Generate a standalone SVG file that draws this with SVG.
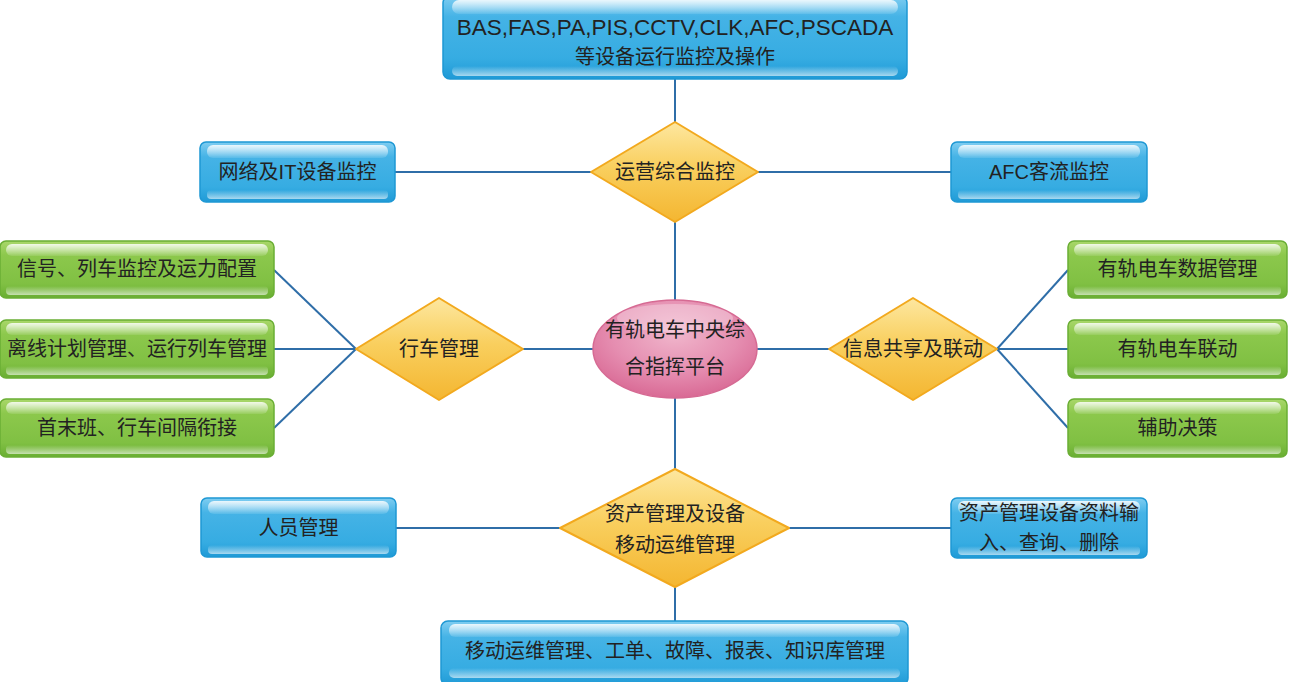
<svg xmlns="http://www.w3.org/2000/svg" width="1289" height="682" viewBox="0 0 1289 682">
<defs>
<linearGradient id="gBlue" x1="0" y1="0" x2="0" y2="1">
<stop offset="0" stop-color="#7fcdf1"/>
<stop offset="0.25" stop-color="#45b3e6"/>
<stop offset="0.75" stop-color="#36ace2"/>
<stop offset="1" stop-color="#1f9ad6"/>
</linearGradient>
<linearGradient id="gGreen" x1="0" y1="0" x2="0" y2="1">
<stop offset="0" stop-color="#a9d76a"/>
<stop offset="0.25" stop-color="#8cc84c"/>
<stop offset="0.75" stop-color="#80c043"/>
<stop offset="1" stop-color="#69ae32"/>
</linearGradient>
<linearGradient id="gGloss" x1="0" y1="0" x2="0" y2="1">
<stop offset="0" stop-color="#ffffff" stop-opacity="0.85"/>
<stop offset="1" stop-color="#ffffff" stop-opacity="0.1"/>
</linearGradient>
<linearGradient id="gBottom" x1="0" y1="0" x2="0" y2="1">
<stop offset="0" stop-color="#ffffff" stop-opacity="0"/>
<stop offset="1" stop-color="#ffffff" stop-opacity="0.6"/>
</linearGradient>
<linearGradient id="gYellow" x1="0" y1="0" x2="0" y2="1">
<stop offset="0" stop-color="#fde7a0"/>
<stop offset="0.45" stop-color="#f9cf5e"/>
<stop offset="1" stop-color="#f4b631"/>
</linearGradient>
<radialGradient id="gPink" cx="0.5" cy="0.35" r="0.65">
<stop offset="0" stop-color="#f0b5cb"/>
<stop offset="0.6" stop-color="#e58db0"/>
<stop offset="1" stop-color="#d96a95"/>
</radialGradient>
<style>
.line{stroke:#2f6ea8;stroke-width:2;fill:none}
.blue{fill:url(#gBlue);stroke:#1e98d4;stroke-width:1.5}
.green{fill:url(#gGreen);stroke:#6aae34;stroke-width:1.5}
.gloss{fill:url(#gGloss)}
.btm{fill:url(#gBottom)}
.dia{fill:url(#gYellow);stroke:#f2a91e;stroke-width:2;stroke-linejoin:round}
.ell{fill:url(#gPink);stroke:#d66a93;stroke-width:1.5}
.t{font-family:"Liberation Sans","Noto Sans CJK SC",sans-serif;font-size:20px;fill:#222;text-anchor:middle}
.lat{font-size:22.5px}
</style>
</defs>

<g id="connectors">
<line class="line" x1="675" y1="79" x2="675" y2="122"/>
<line class="line" x1="675" y1="222" x2="675" y2="300"/>
<line class="line" x1="675" y1="398" x2="675" y2="469"/>
<line class="line" x1="675" y1="587" x2="675" y2="621"/>
<line class="line" x1="395" y1="172" x2="591" y2="172"/>
<line class="line" x1="758" y1="172" x2="951" y2="172"/>
<line class="line" x1="523" y1="349" x2="593" y2="349"/>
<line class="line" x1="757" y1="349" x2="829" y2="349"/>
<line class="line" x1="396" y1="528" x2="560" y2="528"/>
<line class="line" x1="789" y1="528" x2="951" y2="528"/>
<line class="line" x1="274" y1="270" x2="356" y2="349"/>
<line class="line" x1="274" y1="349" x2="356" y2="349"/>
<line class="line" x1="274" y1="428" x2="356" y2="349"/>
<line class="line" x1="997" y1="349" x2="1068" y2="270"/>
<line class="line" x1="997" y1="349" x2="1068" y2="349"/>
<line class="line" x1="997" y1="349" x2="1068" y2="428"/>
</g>

<g id="top-box">
<rect class="blue" x="443" y="-4" width="464" height="83" rx="7"/>
<rect class="gloss" x="452" y="0" width="446" height="14" rx="7"/>
<rect class="btm" x="452" y="66" width="446" height="10" rx="5"/>
<text class="t lat" x="675" y="35">BAS,FAS,PA,PIS,CCTV,CLK,AFC,PSCADA</text>
<text class="t" x="675" y="64">等设备运行监控及操作</text>
</g>

<g id="ops-monitor">
<polygon class="dia" points="675,122 758,172 675,222 591,172"/>
<text class="t" x="675" y="179">运营综合监控</text>
</g>

<g id="network-it">
<rect class="blue" x="200" y="142" width="195" height="60" rx="6"/>
<rect class="gloss" x="207" y="145" width="181" height="13" rx="6"/>
<rect class="btm" x="207" y="190" width="181" height="9" rx="4"/>
<text class="t" x="297.5" y="179">网络及IT设备监控</text>
</g>

<g id="afc-flow">
<rect class="blue" x="951" y="142" width="196" height="60" rx="6"/>
<rect class="gloss" x="958" y="145" width="182" height="13" rx="6"/>
<rect class="btm" x="958" y="190" width="182" height="9" rx="4"/>
<text class="t" x="1049" y="179">AFC客流监控</text>
</g>

<g id="signal">
<rect class="green" x="0" y="241" width="274" height="57" rx="6"/>
<rect class="gloss" x="6" y="244" width="262" height="12" rx="6"/>
<rect class="btm" x="6" y="286" width="262" height="9" rx="4"/>
<text class="t" x="137" y="276">信号、列车监控及运力配置</text>
</g>

<g id="offline-plan">
<rect class="green" x="0" y="320" width="274" height="58" rx="6"/>
<rect class="gloss" x="6" y="323" width="262" height="12" rx="6"/>
<rect class="btm" x="6" y="366" width="262" height="9" rx="4"/>
<text class="t" x="137" y="356">离线计划管理、运行列车管理</text>
</g>

<g id="first-last">
<rect class="green" x="0" y="399" width="274" height="58" rx="6"/>
<rect class="gloss" x="6" y="402" width="262" height="12" rx="6"/>
<rect class="btm" x="6" y="445" width="262" height="9" rx="4"/>
<text class="t" x="137" y="435">首末班、行车间隔衔接</text>
</g>

<g id="train-mgmt">
<polygon class="dia" points="439,298 523,349 439,400 356,349"/>
<text class="t" x="439" y="356">行车管理</text>
</g>

<g id="center">
<ellipse class="ell" cx="675" cy="349" rx="82" ry="49"/>
<ellipse cx="675" cy="318" rx="58" ry="14" fill="#ffffff" fill-opacity="0.3"/>
<text class="t" x="675" y="337">有轨电车中央综</text>
<text class="t" x="675" y="374">合指挥平台</text>
</g>

<g id="info-share">
<polygon class="dia" points="913,298 997,349 913,400 829,349"/>
<text class="t" x="913" y="356">信息共享及联动</text>
</g>

<g id="tram-data">
<rect class="green" x="1068" y="241" width="219" height="57" rx="6"/>
<rect class="gloss" x="1074" y="244" width="207" height="12" rx="6"/>
<rect class="btm" x="1074" y="286" width="207" height="9" rx="4"/>
<text class="t" x="1177.5" y="276">有轨电车数据管理</text>
</g>

<g id="tram-link">
<rect class="green" x="1068" y="320" width="219" height="58" rx="6"/>
<rect class="gloss" x="1074" y="323" width="207" height="12" rx="6"/>
<rect class="btm" x="1074" y="366" width="207" height="9" rx="4"/>
<text class="t" x="1177.5" y="356">有轨电车联动</text>
</g>

<g id="decision">
<rect class="green" x="1068" y="399" width="219" height="58" rx="6"/>
<rect class="gloss" x="1074" y="402" width="207" height="12" rx="6"/>
<rect class="btm" x="1074" y="445" width="207" height="9" rx="4"/>
<text class="t" x="1177.5" y="435">辅助决策</text>
</g>

<g id="asset-mgmt">
<polygon class="dia" points="675,469 789,528 675,587 560,528"/>
<text class="t" x="675" y="521">资产管理及设备</text>
<text class="t" x="675" y="552">移动运维管理</text>
</g>

<g id="staff">
<rect class="blue" x="201" y="498" width="195" height="59" rx="6"/>
<rect class="gloss" x="208" y="501" width="181" height="13" rx="6"/>
<rect class="btm" x="208" y="545" width="181" height="9" rx="4"/>
<text class="t" x="298.5" y="535">人员管理</text>
</g>

<g id="asset-data">
<rect class="blue" x="951" y="498" width="196" height="60" rx="6"/>
<rect class="gloss" x="958" y="501" width="182" height="13" rx="6"/>
<rect class="btm" x="958" y="546" width="182" height="9" rx="4"/>
<text class="t" x="1049" y="520">资产管理设备资料输</text>
<text class="t" x="1049" y="550">入、查询、删除</text>
</g>

<g id="bottom-box">
<rect class="blue" x="441" y="621" width="467" height="64" rx="7"/>
<rect class="gloss" x="449" y="624" width="451" height="13" rx="6"/>
<rect class="btm" x="449" y="668" width="451" height="10" rx="5"/>
<text class="t" x="675" y="658">移动运维管理、工单、故障、报表、知识库管理</text>
</g>
</svg>
